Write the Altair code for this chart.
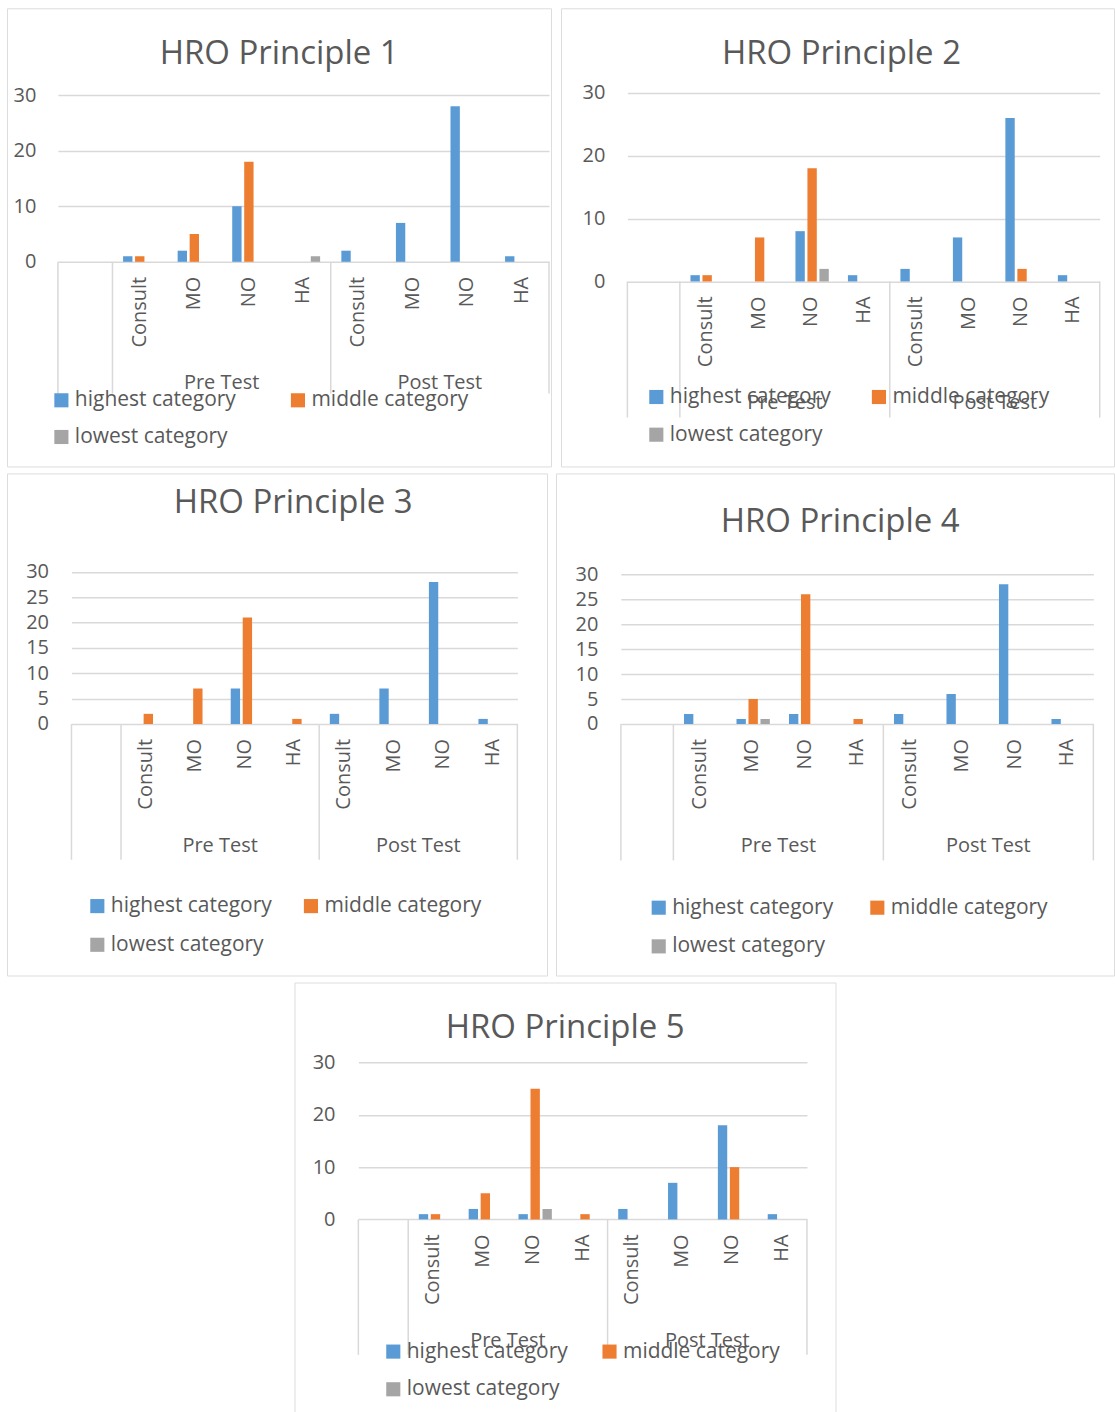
import altair as alt
import pandas as pd

FONT = "Open Sans"
TEXT = "#595959"
GRID = "#D9D9D9"

CATEGORIES = ["Consult", "MO", "NO", "HA"]
GROUPS = ["Pre Test", "Post Test"]
SERIES = ["highest category", "middle category", "lowest category"]
COLORS = ["#5B9BD5", "#ED7D31", "#A5A5A5"]

TITLES = ["HRO Principle 1", "HRO Principle 2", "HRO Principle 3",
          "HRO Principle 4", "HRO Principle 5"]

# order: Pre Test (Consult, MO, NO, HA), Post Test (Consult, MO, NO, HA)
p1_highest = [1, 2, 10, 0, 2, 7, 28, 1]
p1_middle = [1, 5, 18, 0, 0, 0, 0, 0]
p1_lowest = [0, 0, 0, 1, 0, 0, 0, 0]

p2_highest = [1, 0, 8, 1, 2, 7, 26, 1]
p2_middle = [1, 7, 18, 0, 0, 0, 2, 0]
p2_lowest = [0, 0, 2, 0, 0, 0, 0, 0]

p3_highest = [0, 0, 7, 0, 2, 7, 28, 1]
p3_middle = [2, 7, 21, 1, 0, 0, 0, 0]
p3_lowest = [0, 0, 0, 0, 0, 0, 0, 0]

p4_highest = [2, 1, 2, 0, 2, 6, 28, 1]
p4_middle = [0, 5, 26, 1, 0, 0, 0, 0]
p4_lowest = [0, 1, 0, 0, 0, 0, 0, 0]

p5_highest = [1, 2, 1, 0, 2, 7, 18, 1]
p5_middle = [1, 5, 25, 1, 0, 0, 10, 0]
p5_lowest = [0, 0, 2, 0, 0, 0, 0, 0]

TICKS_10 = [0, 10, 20, 30]
TICKS_5 = [0, 5, 10, 15, 20, 25, 30]

BLANK = "_|"
KEYS = [f"{g}|{c}" for g in GROUPS for c in CATEGORIES]
KEY_LABELS = [c for g in GROUPS for c in CATEGORIES]
DOMAIN = [BLANK] + KEYS

# layout of each panel box (pixels inside the box)
LAYOUTS = [
    dict(w=545, h=459, x0=51, x1=543, yb=254, yt=87, ylab=29, tx=272.7, ty=46,
         gy=375, rb=386, lx=44, ly=382, cp=51, rp=15),
    dict(w=554, h=459, x0=66.5, x1=539.7, yb=273.7, yt=84.7, ylab=44, tx=281, ty=46,
         gy=395, rb=410, lx=85, ly=378.7, cp=37, rp=16),
    dict(w=541, h=503, x0=64.6, x1=511.3, yb=251, yt=98.7, ylab=41.6, tx=286.7, ty=30,
         gy=373, rb=387, lx=80, ly=422.7, cp=28, rp=17),
    dict(w=559, h=503, x0=65, x1=538.3, yb=251, yt=101, ylab=42, tx=284.7, ty=49,
         gy=373, rb=387.7, lx=92.4, ly=424.3, cp=33, rp=17),
    dict(w=542, h=434, x0=64, x1=513.4, yb=237.3, yt=80.3, ylab=40.6, tx=271.2, ty=46,
         gy=358.7, rb=373, lx=88.5, ly=359, cp=30.6, rp=16),
]


def panel(title, highest, middle, lowest, ticks, L):
    rows = []
    for series, vals in zip(SERIES, [highest, middle, lowest]):
        for key, v in zip(KEYS, vals):
            rows.append({"key": key, "series": series, "value": v})
    df = pd.DataFrame(rows)

    xscale = alt.Scale(domain=DOMAIN, range=[L["x0"], L["x1"]],
                       paddingInner=0, paddingOuter=0)
    yscale = alt.Scale(domain=[0, 30], range=[L["yb"], L["yt"]], nice=False)

    bars = alt.Chart(df).mark_bar().encode(
        x=alt.X("key:N", scale=xscale, axis=None),
        xOffset=alt.XOffset("series:N", scale=alt.Scale(
            domain=SERIES, paddingInner=0.22, paddingOuter=0.885)),
        y=alt.Y("value:Q", scale=yscale, axis=alt.Axis(
            title=None, values=ticks, orient="left", offset=-L["ylab"],
            domain=False, ticks=False, tickSize=0, labelPadding=0,
            labelFont=FONT, labelFontSize=20, labelColor=TEXT,
            grid=True, gridColor=GRID, gridWidth=1.5)),
        color=alt.Color("series:N", scale=alt.Scale(domain=SERIES, range=COLORS),
                        legend=alt.Legend(
                            title=None, orient="none", legendX=L["lx"], legendY=L["ly"],
                            direction="horizontal", columns=2, symbolType="square",
                            symbolSize=200, symbolStrokeWidth=0, labelFont=FONT,
                            labelFontSize=21, labelColor=TEXT, columnPadding=L["cp"],
                            rowPadding=L["rp"], labelOffset=3, padding=0,
                            labelLimit=400)),
    )

    lab = pd.DataFrame({"key": KEYS, "label": KEY_LABELS})
    cat_text = alt.Chart(lab).mark_text(
        font=FONT, fontSize=20, color=TEXT, angle=270, align="right",
        baseline="middle").encode(
        text="label:N",
        x=alt.X("key:N", scale=xscale, axis=None),
        y=alt.value(L["yb"] + 15))

    sep = pd.DataFrame({"anchor": [BLANK, "Pre Test|Consult", "Post Test|Consult"]})
    rules = alt.Chart(sep).mark_rule(color=GRID, strokeWidth=1.5).encode(
        x=alt.X("anchor:N", scale=xscale, axis=None, bandPosition=0),
        y=alt.value(L["yb"]), y2=alt.value(L["rb"]))
    end = pd.DataFrame({"anchor": ["Post Test|HA"]})
    rule_end = alt.Chart(end).mark_rule(color=GRID, strokeWidth=1.5).encode(
        x=alt.X("anchor:N", scale=xscale, axis=None, bandPosition=1),
        y=alt.value(L["yb"]), y2=alt.value(L["rb"]))

    grp = pd.DataFrame({"group": GROUPS, "anchor": ["Pre Test|NO", "Post Test|NO"]})
    group_text = alt.Chart(grp).mark_text(
        font=FONT, fontSize=20, color=TEXT, align="center", baseline="middle").encode(
        text="group:N",
        x=alt.X("anchor:N", scale=xscale, axis=None, bandPosition=0),
        y=alt.value(L["gy"]))

    ttl = alt.Chart(pd.DataFrame({"t": [title]})).mark_text(
        font=FONT, fontSize=33, color=TEXT, align="center", baseline="middle").encode(
        text="t:N", x=alt.value(L["tx"]), y=alt.value(L["ty"]))

    return alt.layer(rules, rule_end, bars, cat_text, group_text, ttl).properties(
        width=L["w"], height=L["h"])


data = [
    (p1_highest, p1_middle, p1_lowest, TICKS_10),
    (p2_highest, p2_middle, p2_lowest, TICKS_10),
    (p3_highest, p3_middle, p3_lowest, TICKS_5),
    (p4_highest, p4_middle, p4_lowest, TICKS_5),
    (p5_highest, p5_middle, p5_lowest, TICKS_10),
]
panels = [panel(t, h, m, l, tk, L) for t, (h, m, l, tk), L in zip(TITLES, data, LAYOUTS)]

spacer = alt.Chart(pd.DataFrame({"t": [""]})).mark_text().encode(text="t:N").properties(
    width=287, height=434, view=alt.ViewBackground(strokeOpacity=0))


def indep(c):
    return c.resolve_scale(color="independent").resolve_legend(color="independent")


row1 = indep(alt.hconcat(panels[0], panels[1], spacing=8))
row2 = indep(alt.hconcat(panels[2], panels[3], spacing=7))
row3 = indep(alt.hconcat(spacer, panels[4], spacing=0))

chart = indep(alt.vconcat(row1, row2, row3, spacing=5)).properties(
    padding={"left": 6, "top": 6, "right": 0, "bottom": 0}
).configure_view(stroke="#D6D6D6", strokeWidth=1.5).configure(font=FONT)

chart.save("out.html", embed_options={"renderer": "svg", "actions": False})
